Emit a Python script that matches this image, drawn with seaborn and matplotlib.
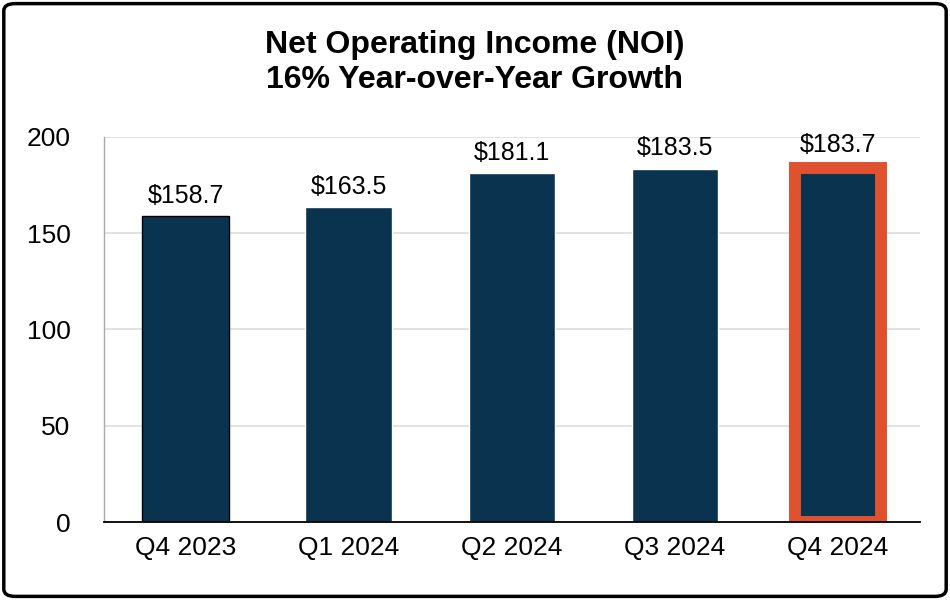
import matplotlib
matplotlib.use("Agg")
import matplotlib.pyplot as plt
import seaborn as sns
from matplotlib.patches import FancyBboxPatch

quarters = ["Q4 2023", "Q1 2024", "Q2 2024", "Q3 2024", "Q4 2024"]
noi = [158.7, 163.5, 181.1, 183.5, 183.7]
labels = ["$158.7", "$163.5", "$181.1", "$183.5", "$183.7"]
yticks = [0, 50, 100, 150, 200]

navy = "#0a3350"
orange = "#e0512f"

sns.set_theme(style="white")
plt.rcParams["font.family"] = ["Liberation Sans", "DejaVu Sans"]

fig = plt.figure(figsize=(9.5, 6), dpi=100)
ax = fig.add_axes([0.1095, 0.13, 0.8585, 0.6417])

sns.barplot(x=quarters, y=noi, color=navy, width=0.53, saturation=1, ax=ax)

ax.patches[0].set_edgecolor("black")
ax.patches[0].set_linewidth(1.0)
last = ax.patches[-1]
last.set_edgecolor(orange)
last.set_linewidth(8.6)

for p, lab in zip(ax.patches, labels):
    extra = 2 if p is last else 0
    ax.annotate(lab, (p.get_x() + p.get_width() / 2, p.get_height()),
                xytext=(0, 6 + extra), textcoords="offset points",
                ha="center", va="bottom", fontsize=18, color="black")

ax.set_ylim(0, 200)
ax.set_xlim(-0.5, 4.5)
ax.set_yticks(yticks)
ax.set_yticklabels([str(v) for v in yticks], fontsize=19, color="black")
ax.tick_params(axis="y", length=0, pad=24)
ax.tick_params(axis="x", length=0, pad=10, labelsize=19, labelcolor="black")
ax.set_xlabel("")
ax.set_ylabel("")
ax.yaxis.grid(True, color="#dddddd", linewidth=1.2)
ax.set_axisbelow(True)
for s in ["top", "right"]:
    ax.spines[s].set_visible(False)
ax.spines["left"].set_color("#aaaaaa")
ax.spines["left"].set_linewidth(1.0)
ax.spines["bottom"].set_color("black")
ax.spines["bottom"].set_linewidth(1.3)

fig.text(0.5, 0.925, "Net Operating Income (NOI)", ha="center", va="center",
         fontsize=23, fontweight="bold", color="black")
fig.text(0.5, 0.867, "16% Year-over-Year Growth", ha="center", va="center",
         fontsize=23, fontweight="bold", color="black")

border = FancyBboxPatch((0.004, 0.006), 0.992, 0.988,
                        boxstyle="round,pad=0,rounding_size=0.012",
                        transform=fig.transFigure, fill=False,
                        edgecolor="black", linewidth=2.5)
fig.patches.append(border)

fig.savefig("out.png", dpi=100)
